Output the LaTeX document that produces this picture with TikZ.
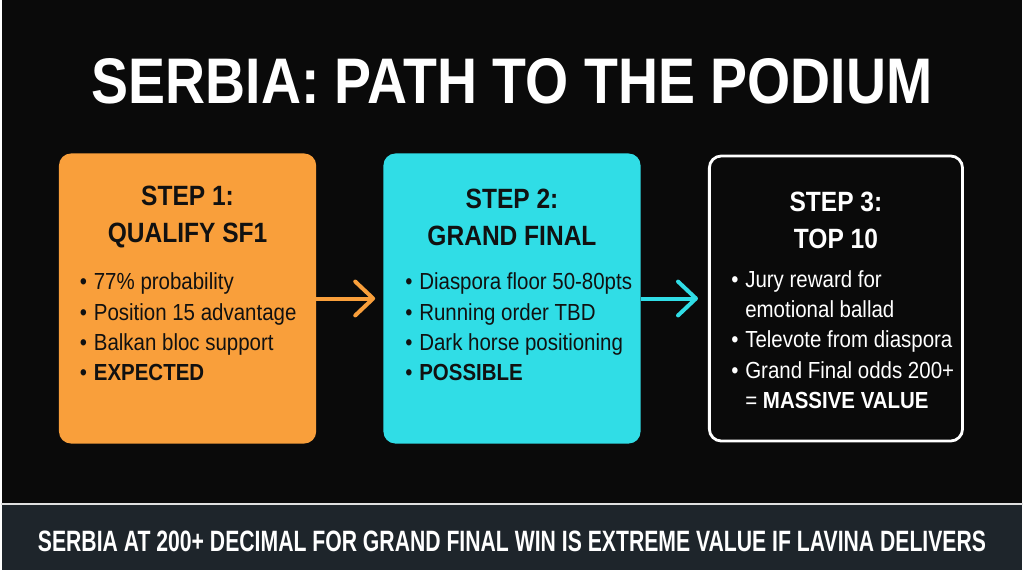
\documentclass[tikz,border=0pt]{standalone}
\usepackage{fontspec}
\setmainfont{Liberation Sans}
\newfontfamily\titlefont[FakeStretch=0.86]{Liberation Sans}
\newfontfamily\condfont[FakeStretch=0.88]{Liberation Sans}
\newfontfamily\bandfont[FakeStretch=0.72]{Liberation Sans}
\usepackage{xcolor}
\usetikzlibrary{arrows.meta, positioning}

\definecolor{bgdark}{HTML}{0A0A0A}
\definecolor{stepor}{HTML}{F99F3B}
\definecolor{stepcy}{HTML}{30DDE6}
\definecolor{bandgray}{HTML}{1E252B}
\definecolor{inkdark}{HTML}{111111}

\newcommand{\bul}{\makebox[0.35cm][l]{\textbullet}}
\newcommand{\ind}{\hspace*{0.35cm}}

\begin{document}
\begin{tikzpicture}[
    stepbox/.style={rectangle, rounded corners=0.3cm, minimum width=6.45cm, minimum height=7.275cm},
    head/.style={align=center, inner sep=0, font=\condfont\bfseries\fontsize{19.9}{26.3}\selectfont},
    points/.style={align=left, anchor=north west, inner sep=0, font=\condfont\fontsize{16.6}{21.6}\selectfont},
    flow/.style={line width=0.1cm, -{Straight Barb[length=0.45cm, width=0.85cm, round]}}
]

% Background and title
\fill[bgdark] (0,0) rectangle (25.6,14.3);
\node[text=white, font=\titlefont\bfseries\fontsize{46}{50}\selectfont] (ttl) at (12.8,12.26) {SERBIA: PATH TO THE PODIUM};

% Step 1
\node[stepbox, fill=stepor] (s1) at (4.6625,6.8125) {};
\node[head, text=inkdark, yshift=-1.61cm] (h1) at (s1.north) {STEP 1:\\QUALIFY SF1};
\node[points, text=inkdark] (p1) at ([xshift=0.525cm, yshift=-3.0cm]s1.north west) {\bul 77\% probability\\\bul Position 15 advantage\\\bul Balkan bloc support\\\bul\textbf{EXPECTED}};

% Step 2
\node[stepbox, fill=stepcy] (s2) at (12.8,6.8125) {};
\node[head, text=inkdark, yshift=-1.61cm] (h2) at (s2.north) {STEP 2:\\GRAND FINAL};
\node[points, text=inkdark] (p2) at ([xshift=0.55cm, yshift=-3.0cm]s2.north west) {\bul Diaspora floor 50-80pts\\\bul Running order TBD\\\bul Dark horse positioning\\\bul\textbf{POSSIBLE}};

% Step 3
\node[stepbox, draw=white, line width=2pt, minimum width=6.35cm, minimum height=7.15cm] (s3) at (20.925,6.8125) {};
\node[head, text=white, yshift=-1.65cm] (h3) at (s3.north) {STEP 3:\\TOP 10};
\node[points, text=white] (p3) at ([xshift=0.58cm, yshift=-2.9cm]s3.north west) {\bul Jury reward for\\\ind emotional ballad\\\bul Televote from diaspora\\\bul Grand Final odds 200+\\\ind = \textbf{MASSIVE VALUE}};

% Arrows
\draw[flow, draw=stepor, shorten >=0.2cm] (s1) -- (s2);
\draw[flow, draw=stepcy, shorten >=0.25cm] (s2) -- (s3);

% Bottom band
\node[rectangle, fill=bandgray, minimum width=25.6cm, minimum height=1.65cm, inner sep=0] (band) at (12.8,0.825) {};
\draw[white!88!black, line width=2pt] (band.north west) -- (band.north east);
\node[text=white, font=\bandfont\bfseries\fontsize{21}{25}\selectfont] (verdict) at ([yshift=-0.1cm]band.center) {SERBIA AT 200+ DECIMAL FOR GRAND FINAL WIN IS EXTREME VALUE IF LAVINA DELIVERS};

\end{tikzpicture}
\end{document}
